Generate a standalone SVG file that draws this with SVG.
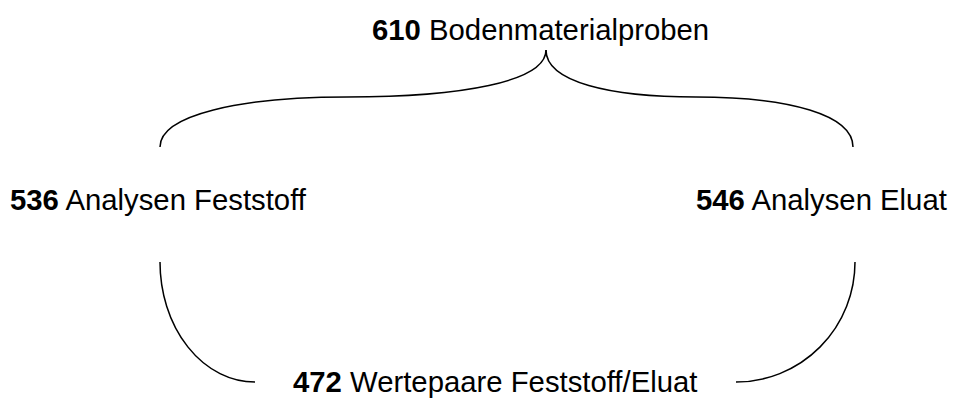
<svg xmlns="http://www.w3.org/2000/svg" width="961" height="403" viewBox="0 0 961 403">
<style>
text{font-family:"Liberation Sans",Arial,sans-serif;font-size:29.3px;fill:#000}
.b{font-weight:bold}
.c{fill:none;stroke:#000;stroke-width:1.5}
</style>
<rect width="961" height="403" fill="#fff"/>
<g id="connectors">
<path class="c" d="M160,147 C160,115 240,97 347,97 C460,97 546,82 546,50"/>
<path class="c" d="M853,147 C853,115 790,97 696,97 C610,97 546,82 546,50"/>
<path class="c" d="M160,262 A95,120 0 0 0 255,382"/>
<path class="c" d="M736,382 A119,120 0 0 0 855,262"/>
</g>
<g id="n610"><text x="372" y="40"><tspan class="b">610</tspan> Bodenmaterialproben</text></g>
<g id="n536"><text x="10" y="210"><tspan class="b">536</tspan> Analysen Feststoff</text></g>
<g id="n546"><text x="696" y="210"><tspan class="b">546</tspan> Analysen Eluat</text></g>
<g id="n472"><text x="293" y="392"><tspan class="b">472</tspan> Wertepaare Feststoff/Eluat</text></g>
</svg>
